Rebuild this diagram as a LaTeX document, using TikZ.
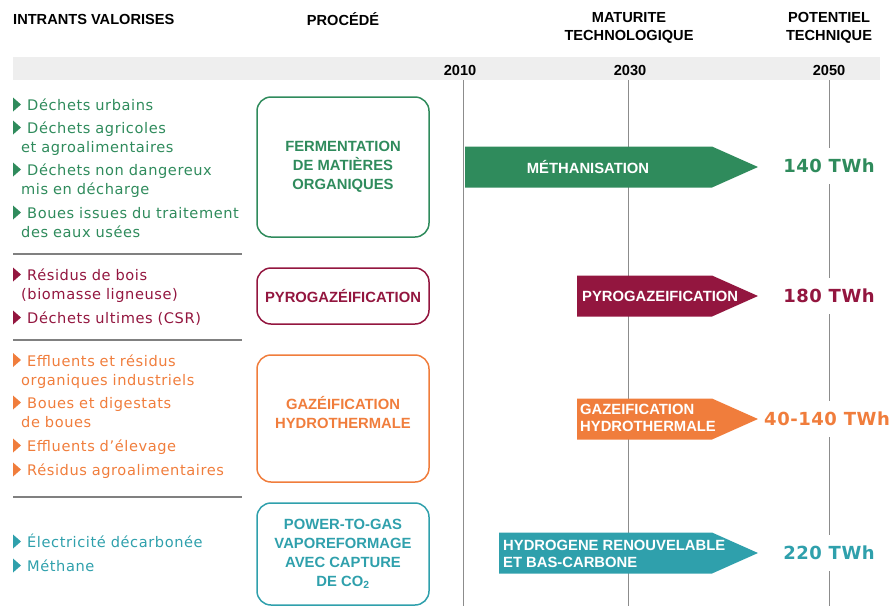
\documentclass[tikz,border=0pt]{standalone}
\usepackage{fontspec}
\setmainfont{Liberation Sans}
\newfontfamily\listefont[LetterSpace=4]{DejaVu Sans}
\newfontfamily\twhfont[LetterSpace=3]{DejaVu Sans}
\usetikzlibrary{calc}
\definecolor{cvert}{HTML}{2F8B5C}
\definecolor{cbord}{HTML}{93163F}
\definecolor{corange}{HTML}{F07D3C}
\definecolor{cteal}{HTML}{2FA0AC}
\definecolor{cbande}{HTML}{EEEEEE}
\def\fleche[#1](#2:#3){\fill[#1] (#2,#3-20.5) -- (712,#3-20.5) -- (758,#3) -- (712,#3+20.5) -- (#2,#3+20.5) -- cycle;}
\newcommand\intrant[4]{%
  \fill[#2] (13,#3-13) -- (21,#3-6) -- (13,#3+1) -- cycle;
  \node[intrant, text=#2] (#1) at (21,#3) {\hspace*{6pt}#4};}
\tikzset{
  entete/.style={inner sep=0, font=\bfseries\fontsize{14.6}{18}\selectfont},
  intrant/.style={anchor=base west, inner sep=0, text width=230pt, align=left, font=\listefont\fontsize{14.6}{19}\selectfont},
  procbox/.style={draw, rounded corners=14pt, line width=1.5pt, minimum width=172pt, inner sep=0, align=center, font=\bfseries\fontsize{14.8}{19}\selectfont},
  flechetxt/.style={inner sep=0, text=white, align=left, font=\bfseries\fontsize{14.8}{17}\selectfont},
  twh/.style={fill=white, inner xsep=2pt, inner ysep=11pt, font=\twhfont\bfseries\fontsize{18}{20}\selectfont},
  axe/.style={gray!90, line width=0.8pt},
  separ/.style={gray, line width=1.2pt}
}
\begin{document}
\begin{tikzpicture}[x=1pt,y=-1pt]
\useasboundingbox (0,0) rectangle (893,606);

% en-tetes
\node[entete, anchor=west] (intrants) at (13,19) {INTRANTS VALORISES};
\node[entete] (procede) at (343,19) {PROCÉDÉ};
\node[entete, align=center] (maturite) at (629,28) {MATURITE\\TECHNOLOGIQUE};
\node[entete, align=center] (potentiel) at (829,28) {POTENTIEL\\TECHNIQUE};

% bande des annees
\fill[cbande] (13,57) rectangle (880,80);
\node[entete] (a2010) at (460,70) {2010};
\node[entete] (a2030) at (630,70) {2030};
\node[entete] (a2050) at (829,70) {2050};
\foreach \x in {463,628,829}
  \draw[axe] (\x,80) -- (\x,606);

% fleches
\fleche[cvert](465:167)
\node[flechetxt] (methanisation) at (588,167) {MÉTHANISATION};
\fleche[cbord](577:296)
\node[flechetxt, anchor=west] (pyrofl) at (582,296) {PYROGAZEIFICATION};
\fleche[corange](577:419)
\node[flechetxt, anchor=west] (hydrofl) at (580,418) {GAZEIFICATION\\HYDROTHERMALE};
\fleche[cteal](499:553)
\node[flechetxt, anchor=west] (hydrogene) at (503,554) {HYDROGENE RENOUVELABLE\\ET BAS-CARBONE};

\node[twh, text=cvert] (t140) at (829,166) {140 TWh};
\node[twh, text=cbord] (t180) at (829,296) {180 TWh};
\node[twh, text=corange] (t40) at (827,419) {40-140 TWh};
\node[twh, text=cteal] (t220) at (829,553) {220 TWh};

% intrants
\intrant{urbains}{cvert}{110.5}{Déchets urbains}
\intrant{agricoles}{cvert}{133.5}{Déchets agricoles\\et agroalimentaires}
\intrant{nondang}{cvert}{175.5}{Déchets non dangereux\\mis en décharge}
\intrant{boues}{cvert}{218.5}{Boues issues du traitement\\des eaux usées}
\draw[separ] (13,254) -- (242,254);
\intrant{bois}{cbord}{280.5}{Résidus de bois\\(biomasse ligneuse)}
\intrant{csr}{cbord}{323.5}{Déchets ultimes (CSR)}
\draw[separ] (13,340) -- (242,340);
\intrant{effluents}{corange}{366}{Effluents et résidus\\organiques industriels}
\intrant{digestats}{corange}{408.5}{Boues et digestats\\de boues}
\intrant{elevage}{corange}{451.5}{Effluents d’élevage}
\intrant{agroalim}{corange}{475.5}{Résidus agroalimentaires}
\draw[separ] (13,497) -- (242,497);
\intrant{electricite}{cteal}{547.5}{Électricité décarbonée}
\intrant{methane}{cteal}{571.5}{Méthane}

% procedes
\node[procbox, draw=cvert, text=cvert, minimum height=140pt] (fermentation) at (343,167) {FERMENTATION\\DE MATIÈRES\\ORGANIQUES};
\node[procbox, draw=cbord, text=cbord, minimum height=56pt] (pyrogaz) at (343,296) {PYROGAZÉIFICATION};
\node[procbox, draw=corange, minimum height=127pt] (gazeif) at (343,418.5) {};
\node[procbox, draw=none, text=corange] (gazeiftxt) at ([yshift=6pt]gazeif.center) {GAZÉIFICATION\\HYDROTHERMALE};
\node[procbox, draw=cteal, text=cteal, minimum height=102pt] (power) at (343,554) {POWER-TO-GAS\\VAPOREFORMAGE\\AVEC CAPTURE\\DE CO\textsubscript{2}};
\end{tikzpicture}
\end{document}
